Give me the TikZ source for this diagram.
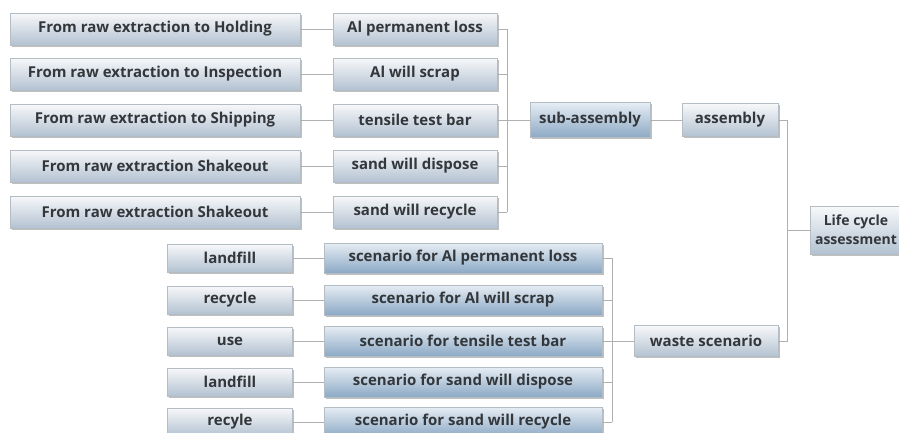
\documentclass[tikz,border=0pt]{standalone}
\usepackage{fontspec}
\setmainfont{Open Sans}
\usetikzlibrary{positioning, shadows}
\definecolor{textgray}{HTML}{33373B}
\definecolor{boxedge}{HTML}{B4BCC4}
\definecolor{linegray}{HTML}{B0B0B0}
\definecolor{greytop}{HTML}{F7F8FA}
\definecolor{greybot}{HTML}{B3C2D1}
\definecolor{bluetop}{HTML}{E6EDF4}
\definecolor{bluebot}{HTML}{8CA9C5}

\begin{document}
\begin{tikzpicture}[
  x=1pt, y=-1pt,
  every node/.style={font=\bfseries\fontsize{15}{17}\selectfont, text=textgray},
  greybox/.style={draw=boxedge, line width=0.6pt, top color=greytop,
                  bottom color=greybot, inner sep=0pt, minimum height=32pt,
                  drop shadow={shadow xshift=1.5pt, shadow yshift=-1.5pt,
                               opacity=0.25, fill=black}},
  bluebox/.style={greybox, top color=bluetop, bottom color=bluebot},
  link/.style={draw=linegray, line width=0.7pt},
]
  \useasboundingbox (0,0) rectangle (899,432);
  \clip (0,0) rectangle (899,432);

  % Upper tree: material flows into sub-assembly
  \foreach \y/\n/\src/\part in {
      29/1/{From raw extraction to Holding}/{Al permanent loss},
      74/2/{From raw extraction to Inspection}/{Al will scrap},
      120/3/{From raw extraction to Shipping}/{tensile test bar},
      166/4/{From raw extraction Shakeout}/{sand will dispose},
      212/5/{From raw extraction Shakeout}/{sand will recycle}} {
    \node[greybox, minimum width=290pt] (src\n) at (155, \y) {\src};
    \node[greybox, minimum width=164pt] (part\n) at (415, \y) {\part};
    \coordinate (jp\n) at (507, \y);
    \draw[link] (src\n) -- (part\n);
    \draw[link] (part\n) -- (jp\n);
  }
  \draw[link] (jp1) -- (jp5);

  % Lower tree: waste scenarios
  \foreach \y/\n/\fate/\scen in {
      258/1/landfill/{scenario for Al permanent loss},
      300/2/recycle/{scenario for Al will scrap},
      341/3/use/{scenario for tensile test bar},
      382/4/landfill/{scenario for sand will dispose},
      422/5/recyle/{scenario for sand will recycle}} {
    \node[greybox, minimum width=125pt, minimum height=28pt] (fate\n) at (230, \y) {\fate};
    \node[bluebox, minimum width=278pt, minimum height=30pt] (scen\n) at (463, \y) {\scen};
    \coordinate (jw\n) at (612, \y);
    \draw[link] (fate\n) -- (scen\n);
    \draw[link] (scen\n) -- (jw\n);
  }
  \draw[link] (jw1) -- (jw5);

  % Assembly levels
  \node[bluebox, minimum width=120pt, minimum height=35pt] (sub) at (590, 120) {sub-assembly};
  \node[greybox, minimum width=96pt, minimum height=33pt] (asm) at (730, 120) {assembly};
  \node[greybox, minimum width=144pt, minimum height=31pt] (waste) at (706, 341) {waste scenario};
  \node[greybox, minimum width=92pt, minimum height=48pt, align=center,
        font=\bfseries\fontsize{14}{19}\selectfont] (lca) at (856, 230) {Life cycle\\assessment};
  \draw[link] (jp3) -- (sub);
  \draw[link] (sub) -- (asm);
  \draw[link] (jw3) -- (waste);

  \coordinate (ja1) at (787, 120);
  \coordinate (ja2) at (787, 341);
  \coordinate (jl) at (787, 230);
  \draw[link] (asm) -- (ja1) -- (ja2) -- (waste);
  \draw[link] (jl) -- (lca);
\end{tikzpicture}
\end{document}
